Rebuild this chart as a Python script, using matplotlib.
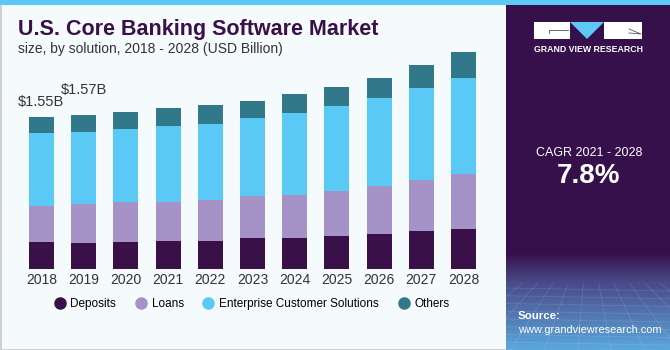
import matplotlib.pyplot as plt
import numpy as np
from matplotlib.lines import Line2D
from matplotlib.patches import Rectangle, Polygon

# Данные (млрд USD)
years = ['2018', '2019', '2020', '2021', '2022', '2023', '2024', '2025', '2026', '2027', '2028']
deposits = [0.275, 0.262, 0.275, 0.289, 0.289, 0.316, 0.316, 0.340, 0.354, 0.388, 0.411]
loans = [0.364, 0.400, 0.411, 0.398, 0.418, 0.428, 0.439, 0.456, 0.493, 0.520, 0.555]
enterprise = [0.745, 0.733, 0.744, 0.769, 0.775, 0.799, 0.836, 0.867, 0.894, 0.935, 0.985]
others = [0.166, 0.175, 0.173, 0.184, 0.194, 0.170, 0.194, 0.190, 0.207, 0.235, 0.259]
series_names = ['Deposits', 'Loans', 'Enterprise Customer Solutions', 'Others']
value_labels = ['$1.55B', '$1.57B']
cagr_text = 'CAGR 2021 - 2028'
cagr_value = '7.8%'

colors = ['#3a1048', '#a592c6', '#5bc9f5', '#31788a']
purple = '#3a1048'
font = 'Liberation Sans'
W, H = 670, 350

fig = plt.figure(figsize=(6.7, 3.5), dpi=100)
fig.patch.set_facecolor('#f5fafd')

# фон, рамка и верхняя полоса
bg = fig.add_axes([0, 0, 1, 1])
bg.set_xlim(0, W)
bg.set_ylim(H, 0)
bg.axis('off')
bg.add_patch(Rectangle((0.5, 0.5), W - 1, H - 1, fill=False, edgecolor='#c8c8c8', lw=1.2))
bg.add_patch(Rectangle((0, 0), W, 5, color='#5bc8f5', lw=0))

# основной график
x0, x1 = 20.4, 484.6
base, top = 269, 40
ax = fig.add_axes([x0 / W, 1 - base / H, (x1 - x0) / W, (base - top) / H])
ax.set_facecolor('none')
x = np.arange(len(years))
bottom = np.zeros(len(years))
for vals, c in zip([deposits, loans, enterprise, others], colors):
    ax.bar(x, vals, width=0.59, bottom=bottom, color=c, edgecolor='none')
    bottom += np.array(vals)
ax.set_xlim(-0.5, len(years) - 0.5)
ax.set_ylim(0, (base - top) / 98.06)
ax.set_xticks(x)
ax.set_xticklabels(years, fontsize=10, color='#333333', family=font)
ax.tick_params(axis='x', length=0, pad=3)
ax.set_yticks([])
for s in ax.spines.values():
    s.set_visible(False)

# подписи значений над первыми столбцами
fig.text(18 / W, 1 - 102 / H, value_labels[0], ha='left', va='center', fontsize=10.5,
         color='#333333', family=font)
fig.text(61 / W, 1 - 90 / H, value_labels[1], ha='left', va='center', fontsize=10.5,
         color='#333333', family=font)

# легенда
handles = [Line2D([], [], marker='o', ls='none', color=c, markersize=8) for c in colors]
fig.legend(handles, series_names, loc='center', bbox_to_anchor=(251 / W, 1 - 304 / H),
           ncol=4, frameon=False, handlelength=1.2, handletextpad=0.3, columnspacing=1.5,
           prop={'family': font, 'size': 8.5})

# заголовки
fig.text(18 / W, 1 - 29 / H, 'U.S. Core Banking Software Market', fontsize=15.5,
         fontweight='bold', color=purple, va='center', family=font)
fig.text(18 / W, 1 - 49 / H, 'size, by solution, 2018 - 2028 (USD Billion)', fontsize=10,
         color='#333333', va='center', family=font)

# правая панель
px0 = 506
pa = fig.add_axes([px0 / W, 0, (W - px0) / W, (H - 5) / H])
pa.axis('off')
c_top = np.array([0x36, 0x10, 0x4a]) / 255
c_mid = np.array([0x4a, 0x4a, 0x8a]) / 255
c_bot = np.array([0x5a, 0xa8, 0xdc]) / 255
grad = np.zeros((100, 1, 3))
for i in range(100):
    t = i / 99
    grad[i, 0] = c_mid * (1 - t) + c_bot * t
top_grad = np.zeros((30, 1, 3))
for i in range(30):
    t = i / 29
    top_grad[i, 0] = c_top * (1 - t) + c_mid * t
pa.add_patch(Rectangle((0, 5), W - px0, H, color='#36104a', lw=0))
pa.imshow(top_grad, extent=(0, W - px0, 283, 253), aspect='auto', zorder=1)
pa.imshow(grad, extent=(0, W - px0, H, 283), aspect='auto', zorder=1)
# сетка-перспектива
for yy in np.linspace(288, 350, 9):
    pa.plot([0, W - px0], [yy, yy + 3], color='white', alpha=0.12, lw=0.6, zorder=2)
for xx in np.linspace(-60, 230, 20):
    pa.plot([xx, (xx - 82) * 2.2 + 82], [283, 350], color='white', alpha=0.12, lw=0.6, zorder=2)
pa.set_xlim(0, W - px0)
pa.set_ylim(H, 5)

# логотип
lx = 534 - px0
pa.add_patch(Rectangle((lx, 22), 36, 17, color='white', lw=0, zorder=3))
pa.add_patch(Polygon([(lx + 36, 22), (lx + 70, 22), (lx + 53, 39)], color='#5bc8f5', lw=0, zorder=3))
pa.add_patch(Rectangle((lx + 70, 22), 38, 17, color='white', lw=0, zorder=3))
pa.plot([lx + 15, lx + 15, lx + 34], [33, 30, 30], color='#555555', lw=0.6, zorder=4)
pa.plot([lx + 95, lx + 107, lx + 95], [29, 34, 33], color='#555555', lw=0.6, zorder=4)
pa.text(lx + 54, 49, 'GRAND VIEW RESEARCH', ha='center', va='center', fontsize=6.3,
        fontweight='bold', color='white', family=font, zorder=4)

cx = (W - px0) / 2 + 1
pa.text(cx, 153, cagr_text, ha='center', va='center', fontsize=9, color='white',
        family=font, zorder=4)
pa.text(cx, 176, cagr_value, ha='center', va='center', fontsize=20, fontweight='bold',
        color='white', family=font, zorder=4)
pa.text(518 - px0, 316, 'Source:', ha='left', va='center', fontsize=8.2, fontweight='bold',
        color='white', family=font, zorder=4)
pa.text(518 - px0, 330, 'www.grandviewresearch.com', ha='left', va='center', fontsize=7.9,
        color='white', family=font, zorder=4)

fig.savefig('out.png', dpi=100, facecolor=fig.get_facecolor())
